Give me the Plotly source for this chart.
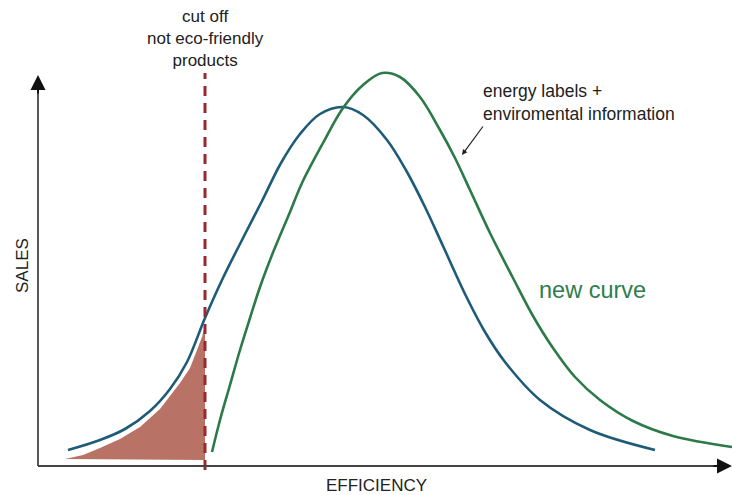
import plotly.graph_objects as go

# Data (efficiency, sales in arbitrary units)
old_eff = [30, 62, 87, 112, 132, 149, 167, 184, 204, 224, 243, 262, 282, 305, 325, 349, 369, 387, 405, 429, 447, 467, 502, 552, 617]
old_sales = [16, 26, 37, 55, 77, 104, 148, 186, 226, 265, 303, 332, 352, 359, 351, 326, 294, 259, 220, 168, 134, 104, 66, 36, 16]

new_eff = [174, 182, 192, 202, 212, 222, 234, 252, 264, 285, 305, 325, 344, 362, 382, 402, 417, 432, 452, 475, 495, 515, 537, 562, 595, 635, 694]
new_sales = [14, 46, 81, 116, 148, 179, 211, 254, 283, 323, 358, 381, 393, 389, 369, 336, 308, 276, 233, 188, 150, 118, 89, 66, 45, 30, 19]

cut_eff = [27, 45, 62, 82, 102, 122, 142, 152, 159, 164, 167, 167, 27]
cut_sales = [7, 11, 18, 27, 39, 57, 83, 98, 116, 129, 141, 6, 7]

cutoff = 167
x_max = 694
y_max = 391

BLUE = "#1E5B78"
GREEN = "#2B7A47"
FILL = "#B87266"
RED = "#962A2E"
FONT = "Liberation Sans, Arial, sans-serif"

fig = go.Figure()

fig.add_trace(go.Scatter(x=cut_eff, y=cut_sales, mode="lines", fill="toself",
                         fillcolor=FILL, line=dict(width=0, color=FILL),
                         hoverinfo="skip", showlegend=False))
fig.add_trace(go.Scatter(x=old_eff, y=old_sales, mode="lines",
                         line=dict(color=BLUE, width=2.6, shape="spline", smoothing=1.0),
                         showlegend=False))
fig.add_trace(go.Scatter(x=new_eff, y=new_sales, mode="lines",
                         line=dict(color=GREEN, width=2.6, shape="spline", smoothing=1.0),
                         showlegend=False))

# cutoff line
fig.add_shape(type="line", x0=cutoff, x1=cutoff, y0=-4, y1=393,
              line=dict(color=RED, width=3, dash="10px,7px"))

# axes lines
fig.add_shape(type="line", x0=0, x1=x_max - 8, y0=0, y1=0, line=dict(color="#444", width=1.8))
fig.add_shape(type="line", x0=0, x1=0, y0=0, y1=y_max - 8, line=dict(color="#444", width=1.8))

annotations = [
    dict(x=x_max, y=0, ax=x_max - 20, ay=0, axref="x", ayref="y", xref="x", yref="y",
         showarrow=True, arrowhead=2, arrowsize=1.5, arrowwidth=2, arrowcolor="#111", text=""),
    dict(x=0, y=y_max, ax=0, ay=y_max - 20, axref="x", ayref="y", xref="x", yref="y",
         showarrow=True, arrowhead=2, arrowsize=1.5, arrowwidth=2, arrowcolor="#111", text=""),
    dict(x=cutoff, y=428, text="cut off<br>not eco-friendly<br>products", showarrow=False,
         xanchor="center", yanchor="middle", align="center",
         font=dict(family=FONT, size=17, color="#222")),
    dict(x=443, y=364, text="energy labels +<br>enviromental information", showarrow=False,
         xanchor="left", yanchor="middle", align="left",
         font=dict(family=FONT, size=17.5, color="#222")),
    dict(x=424, y=311, ax=446, ay=341, axref="x", ayref="y", xref="x", yref="y",
         showarrow=True, arrowhead=2, arrowsize=0.9, arrowwidth=1.2, arrowcolor="#222", text=""),
    dict(x=499, y=176, text="new curve", showarrow=False, xanchor="left", yanchor="middle",
         font=dict(family=FONT, size=23.5, color="#2E7D4F")),
    dict(x=-16, y=200, text="SALES", showarrow=False, textangle=-90,
         xanchor="center", yanchor="middle", font=dict(family=FONT, size=17, color="#222")),
    dict(x=338, y=-19, text="EFFICIENCY", showarrow=False,
         xanchor="center", yanchor="middle", font=dict(family=FONT, size=17, color="#222")),
]

fig.update_layout(
    width=732, height=495,
    margin=dict(l=0, r=0, t=0, b=0),
    paper_bgcolor="white", plot_bgcolor="white",
    xaxis=dict(range=[-38, 694], visible=False, fixedrange=True),
    yaxis=dict(range=[-29, 466], visible=False, fixedrange=True),
    annotations=annotations,
    showlegend=False,
)

fig.write_html("out.html", config={"displayModeBar": False},
               post_script="document.body.style.margin='0';document.body.style.overflow='hidden';")
